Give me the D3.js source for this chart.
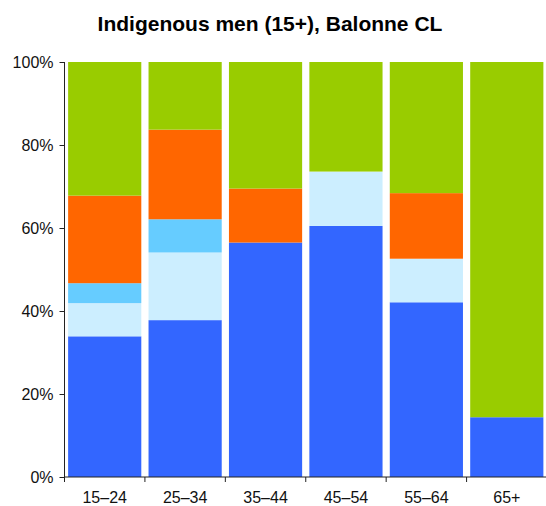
<!DOCTYPE html>
<html>
<head>
<meta charset="utf-8">
<script src="https://cdn.jsdelivr.net/npm/d3@7"></script>
<style>
  body { margin: 0; background: #fff; }
  text { font-family: "Liberation Sans", Arial, sans-serif; }
</style>
</head>
<body>
<div id="chart-area"></div>
<script>
const canvasWidth = 546;
const canvasHeight = 506;

const ageGroups = ["15–24", "25–34", "35–44", "45–54", "55–64", "65+"];
const seriesKeys = ["s1", "s2", "s3", "s4", "s5"];
const seriesColors = ["#3366ff", "#cceeff", "#66ccff", "#ff6600", "#99cc00"];

// percentages per age group, bottom to top
const s1 = [33.9, 37.8, 56.5, 60.5, 42.1, 14.4];
const s2 = [8.0, 16.3, 0, 13.1, 10.5, 0];
const s3 = [4.8, 8.0, 0, 0, 0, 0];
const s4 = [21.1, 21.6, 13.0, 0, 15.8, 0];
const s5 = [32.2, 16.3, 30.5, 26.4, 31.6, 85.6];

const yTicks = [0, 20, 40, 60, 80, 100];

const plot = {left: 64.5, right: 547, top: 62, bottom: 477};

const rows = ageGroups.map((g, i) => ({group: g, s1: s1[i], s2: s2[i], s3: s3[i], s4: s4[i], s5: s5[i]}));

const canvas = d3.select("#chart-area").append("svg")
  .attr("width", canvasWidth).attr("height", canvasHeight);

const scaleX = d3.scaleBand().domain(ageGroups).range([plot.left, plot.right])
  .paddingInner(0.09).paddingOuter(0.045);
const scaleXAxis = d3.scaleBand().domain(ageGroups).range([plot.left, plot.right]).padding(0);
const scaleY = d3.scaleLinear().domain([0, 100]).range([plot.bottom, plot.top]);
const colorScale = d3.scaleOrdinal().domain(seriesKeys).range(seriesColors);

const stacked = d3.stack().keys(seriesKeys)(rows);

canvas.append("g").selectAll("g").data(stacked).join("g")
  .attr("fill", s => colorScale(s.key))
  .selectAll("rect").data(s => s).join("rect")
    .attr("x", d => scaleX(d.data.group))
    .attr("width", scaleX.bandwidth())
    .attr("y", d => scaleY(d[1]))
    .attr("height", d => scaleY(d[0]) - scaleY(d[1]));

// y axis
const yAxis = d3.axisLeft(scaleY).tickValues(yTicks).tickSize(5).tickPadding(6).tickFormat(n => n + "%");
const yAxisGroup = canvas.append("g").attr("transform", `translate(${plot.left}, 0)`).call(yAxis);
yAxisGroup.select(".domain").attr("d", `M0,${plot.top}V${plot.bottom}`);

// x axis: labels at band centres, ticks at band boundaries
const xAxis = d3.axisBottom(scaleXAxis).tickSize(0).tickPadding(15);
const xAxisGroup = canvas.append("g").attr("transform", `translate(0, ${plot.bottom})`).call(xAxis);
xAxisGroup.selectAll(".tick line").remove();
xAxisGroup.select(".domain").attr("d", `M${plot.left},0H${plot.right}`);
xAxisGroup.selectAll("line.bound").data(ageGroups).join("line")
  .attr("class", "bound")
  .attr("x1", g => scaleXAxis(g)).attr("x2", g => scaleXAxis(g))
  .attr("y1", 0).attr("y2", 5)
  .attr("stroke", "#222");

canvas.selectAll(".domain").attr("stroke", "#222");
canvas.selectAll(".tick line").attr("stroke", "#222");
canvas.selectAll(".tick text").attr("font-size", "16px").attr("fill", "#111")
  .attr("font-family", "'Liberation Sans', Arial, sans-serif");

canvas.append("text")
  .attr("x", 270).attr("y", 31)
  .attr("text-anchor", "middle")
  .attr("font-size", "21px")
  .attr("font-weight", "bold")
  .attr("fill", "#000")
  .text("Indigenous men (15+), Balonne CL");
</script>
</body>
</html>
